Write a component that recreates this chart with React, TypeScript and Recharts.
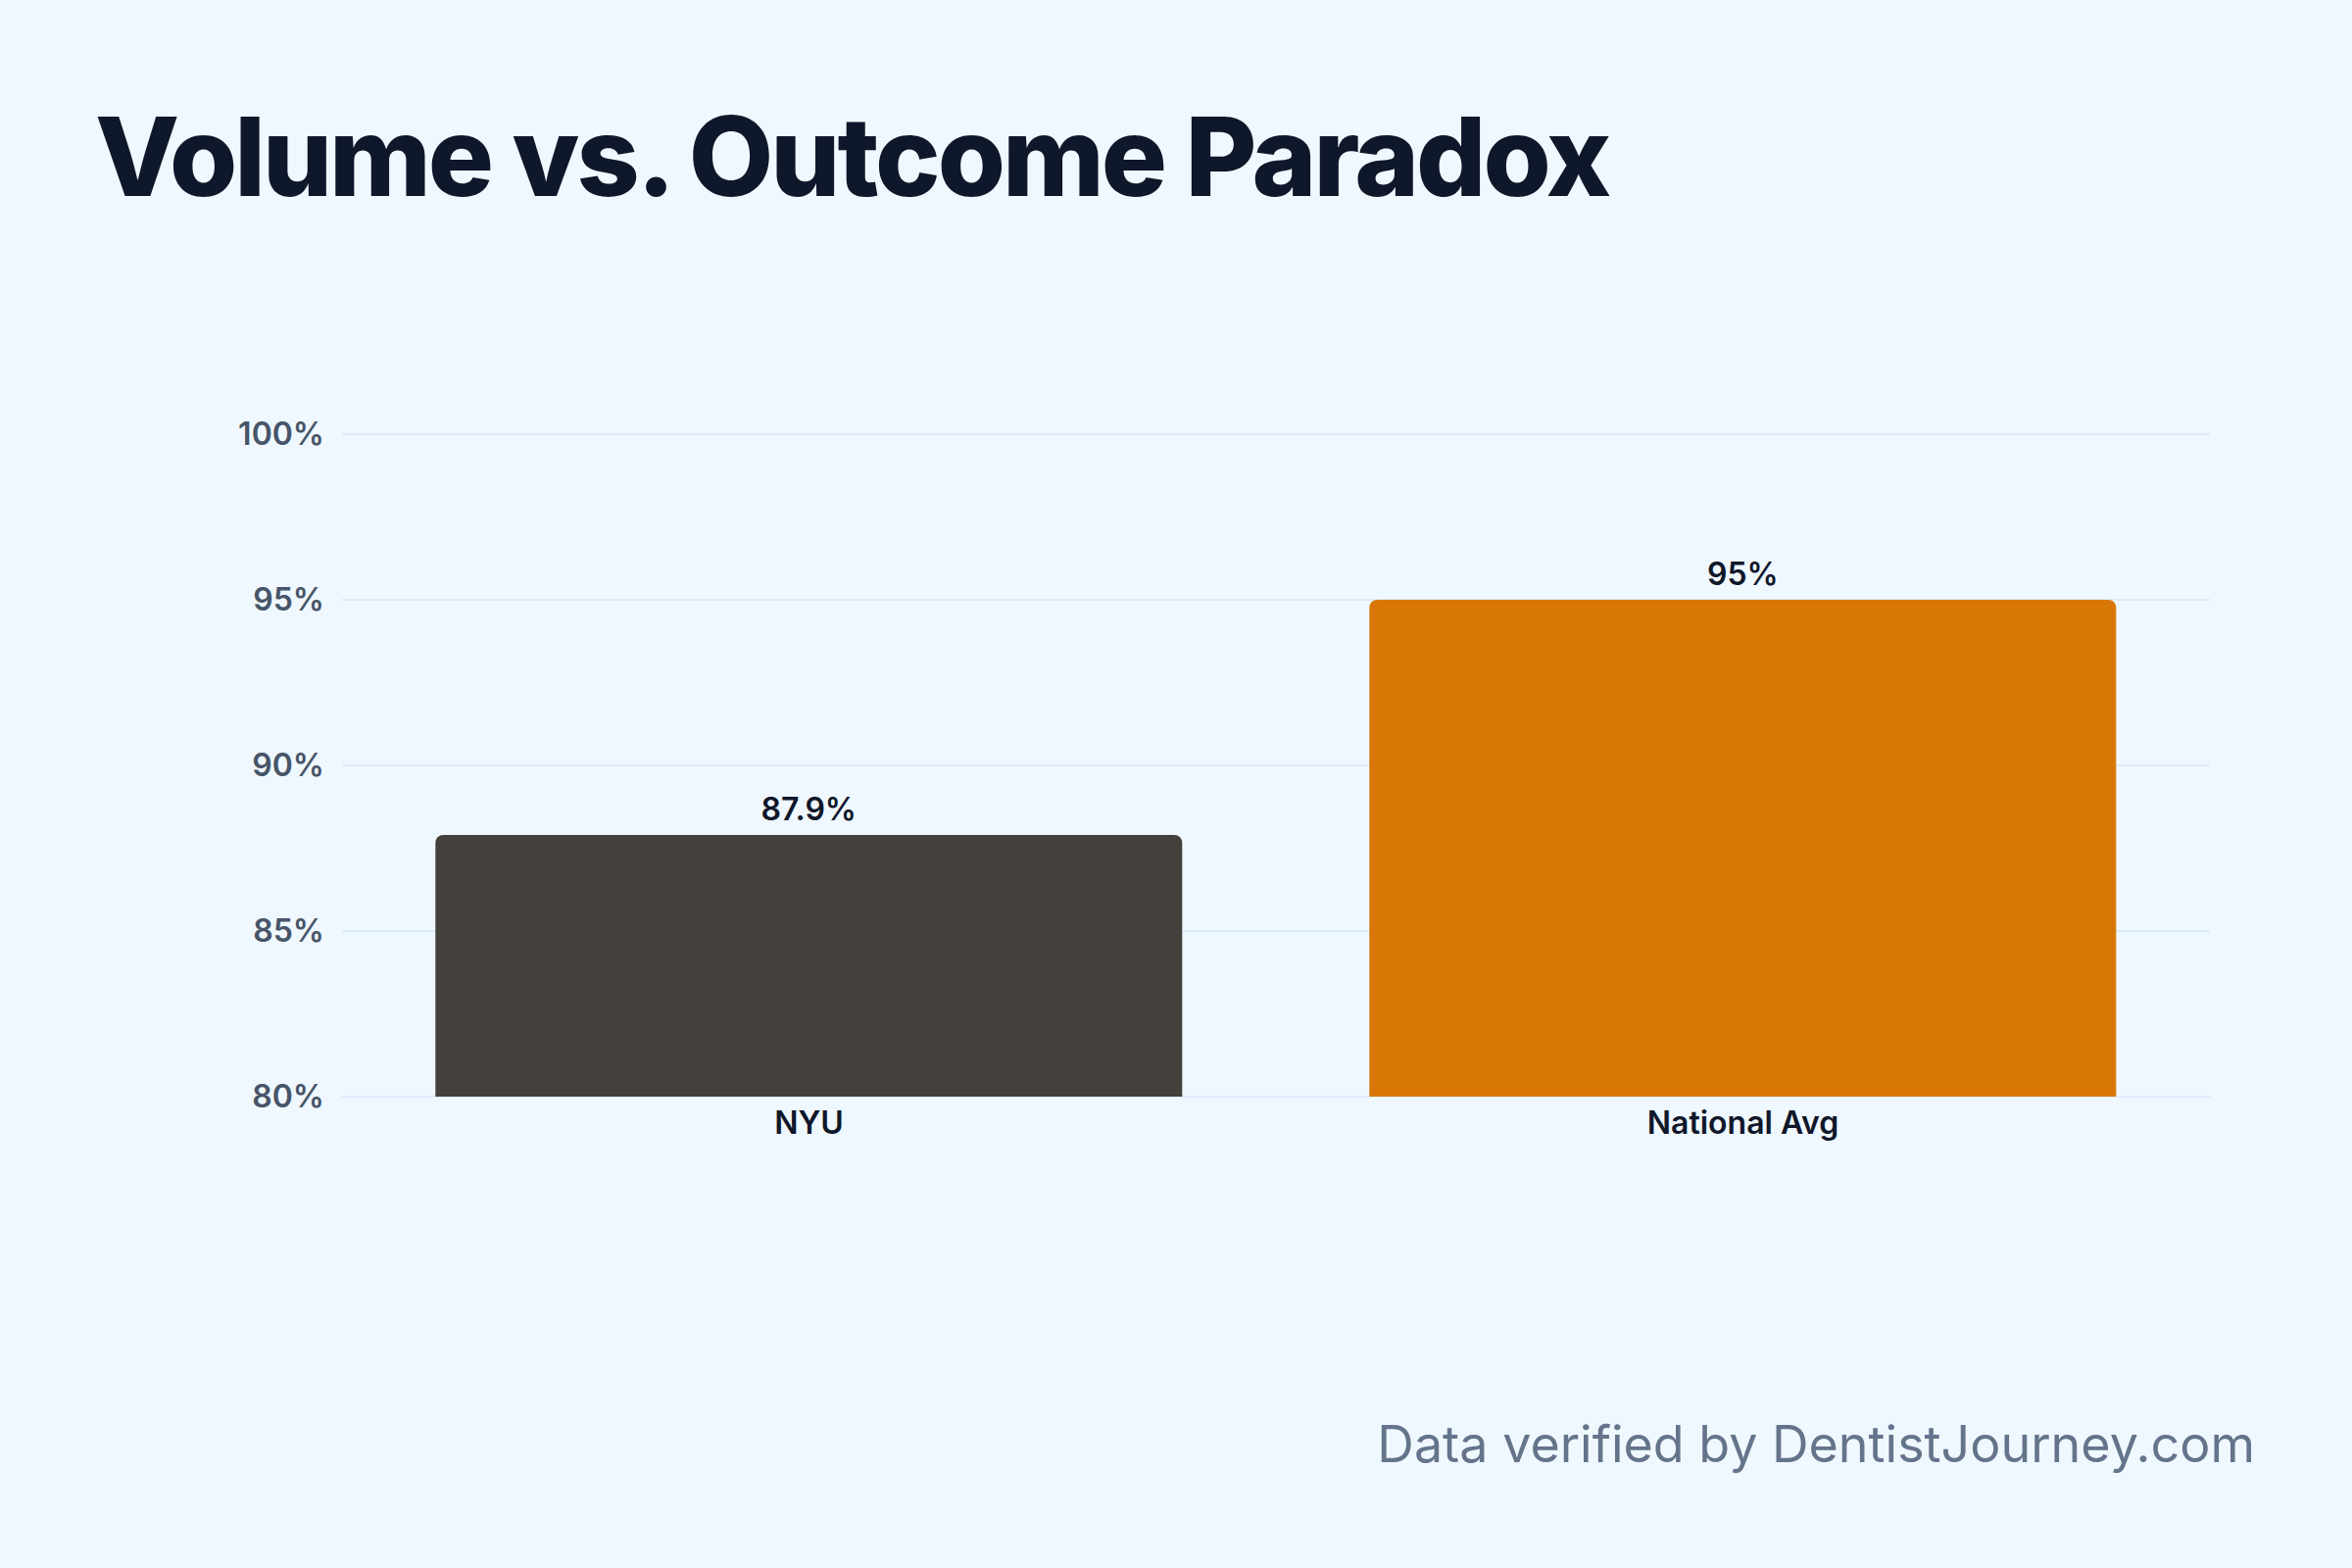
import React from 'react'
import { BarChart, Bar, XAxis, YAxis, CartesianGrid, Cell, LabelList } from 'recharts'

const categories = ['NYU', 'National Avg']
const rates = [87.9, 95]
const barColors = ['#44403c', '#d97706']
const yTicks = [80, 85, 90, 95, 100]

const data = categories.map((name, i) => ({ name, value: rates[i] }))

const FONT = 'Inter, "Noto Sans", sans-serif'

export default function App() {
  return (
    <div
      style={{
        position: 'absolute',
        left: 0,
        top: 0,
        width: 2400,
        height: 1600,
        background: '#f0f8ff',
        fontFamily: FONT,
        overflow: 'hidden',
      }}
    >
      <div
        style={{
          position: 'absolute',
          left: 97,
          top: 103,
          fontSize: 112,
          lineHeight: 1,
          fontWeight: 800,
          letterSpacing: '-0.027em',
          color: '#0f172a',
          whiteSpace: 'nowrap',
        }}
      >
        Volume vs. Outcome Paradox
      </div>

      <div style={{ position: 'absolute', left: 0, top: 0 }}>
        <BarChart
          width={2400}
          height={1600}
          data={data}
          margin={{ top: 443, right: 145, bottom: 421, left: 0 }}
          barCategoryGap="10%"
        >
          <CartesianGrid vertical={false} stroke="#dcecfb" strokeWidth={2} />
          <XAxis
            dataKey="name"
            height={60}
            axisLine={false}
            tickLine={false}
            tickSize={0}
            tickMargin={15}
            tick={{ fill: '#0f172a', fontSize: 32, fontWeight: 600, fontFamily: FONT }}
          />
          <YAxis
            width={349}
            domain={[80, 100]}
            ticks={yTicks}
            axisLine={false}
            tickLine={false}
            tickSize={0}
            tickMargin={18}
            tickFormatter={(v) => `${v}%`}
            tick={{ fill: '#475569', fontSize: 32, fontWeight: 600, fontFamily: FONT }}
          />
          <Bar dataKey="value" radius={[8, 8, 0, 0]} isAnimationActive={false}>
            {data.map((entry, index) => (
              <Cell key={`cell-${index}`} fill={barColors[index]} />
            ))}
            <LabelList
              dataKey="value"
              position="top"
              offset={15}
              formatter={(v: any) => `${v}%`}
              style={{ fill: '#0f172a', fontSize: 32, fontWeight: 600, fontFamily: FONT }}
            />
          </Bar>
        </BarChart>
      </div>

      <div
        style={{
          position: 'absolute',
          right: 99,
          top: 1448,
          fontSize: 52,
          lineHeight: 1,
          fontWeight: 400,
          color: '#64748b',
          whiteSpace: 'nowrap',
        }}
      >
        Data verified by DentistJourney.com
      </div>
    </div>
  )
}
